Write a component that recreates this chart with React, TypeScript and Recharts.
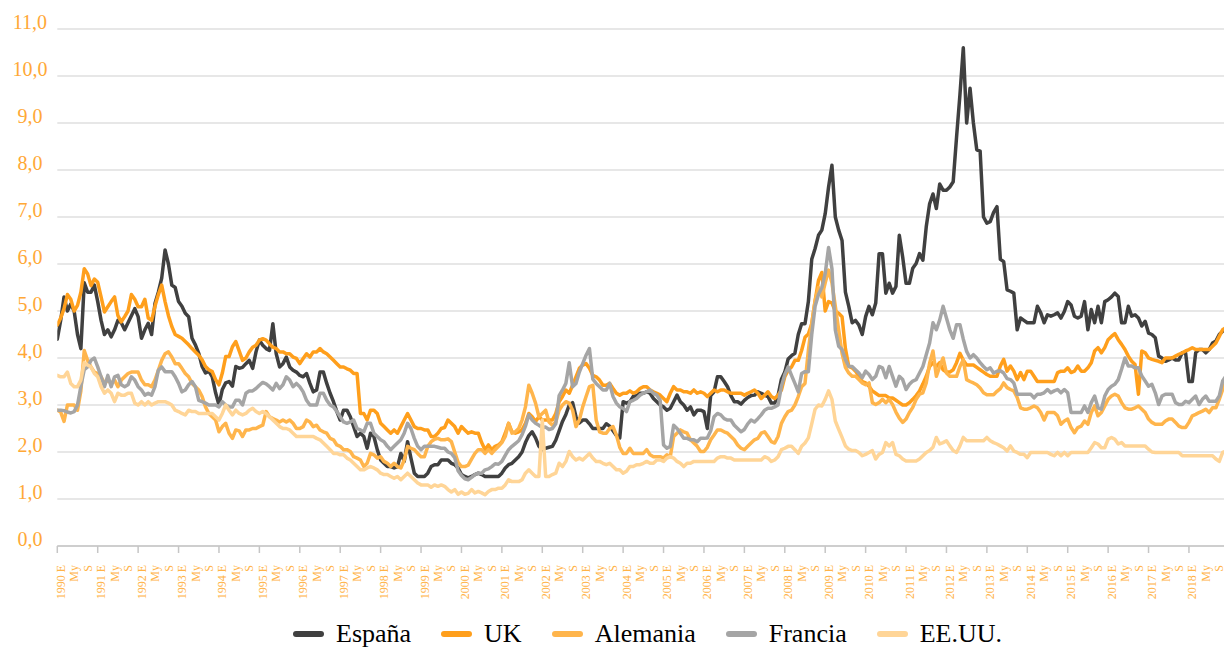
import React from 'react';
import { LineChart, Line, XAxis, YAxis, CartesianGrid, Legend } from 'recharts';

const years = [1990, 1991, 1992, 1993, 1994, 1995, 1996, 1997, 1998, 1999, 2000, 2001, 2002, 2003, 2004, 2005, 2006, 2007, 2008, 2009, 2010, 2011, 2012, 2013, 2014, 2015, 2016, 2017, 2018];
const monthTags = ['E', 'F', 'Mr', 'Ab', 'My', 'Jn', 'Jl', 'Ag', 'S', 'O', 'N', 'D'];
const shownMonths = ['E', 'My', 'S'];
const yTicks = [0, 1, 2, 3, 4, 5, 6, 7, 8, 9, 10, 11];

const espana = [
  4.4, 4.8, 5.3, 5.0, 5.15, 5.0, 4.5, 4.2, 5.6, 5.4, 5.4, 5.55,
  5.2, 4.8, 4.5, 4.6, 4.45, 4.6, 4.8, 4.75, 4.6, 4.75, 4.9, 5.05,
  4.88, 4.42, 4.6, 4.74, 4.5, 5.16, 5.4, 5.7, 6.3, 6.0, 5.55, 5.5,
  5.2, 5.1, 4.95, 4.88, 4.42, 4.28, 4.1, 3.82, 3.68, 3.72, 3.6, 3.26,
  3.0, 3.33, 3.47, 3.5, 3.4, 3.82, 3.78, 3.8, 3.88, 3.95, 3.78, 4.13,
  4.38, 4.27, 4.2, 4.16, 4.73, 4.09, 3.81, 3.88, 4.02, 3.81, 3.74, 3.7,
  3.63, 3.6, 3.67, 3.46, 3.28, 3.32, 3.7, 3.7, 3.46, 3.25, 3.07, 2.86,
  2.68, 2.89, 2.89, 2.75, 2.54, 2.33, 2.4, 2.33, 2.08, 2.4, 2.33, 2.05,
  1.83, 1.76, 1.69, 1.69, 1.66, 1.69, 1.97, 1.8, 2.22, 1.87, 1.55, 1.48,
  1.48, 1.48, 1.55, 1.69, 1.73, 1.73, 1.83, 1.83, 1.83, 1.76, 1.73, 1.66,
  1.52, 1.48, 1.45, 1.48, 1.52, 1.55, 1.52, 1.48, 1.48, 1.48, 1.48, 1.48,
  1.55, 1.66, 1.73, 1.76, 1.83, 1.9, 2.0, 2.2, 2.35, 2.43, 2.3, 2.12,
  2.05, 2.08, 2.1, 2.12, 2.25, 2.45, 2.65, 2.8, 3.0, 3.05, 2.75, 2.62,
  2.68, 2.68, 2.6, 2.5, 2.5, 2.5, 2.5, 2.6, 2.55, 2.45, 2.35, 2.3,
  3.07, 3.04, 3.07, 3.18, 3.2, 3.25, 3.25, 3.28, 3.25, 3.14, 3.07, 3.0,
  2.96, 2.89, 2.93, 3.07, 3.21, 3.07, 3.0, 2.89, 2.96, 2.79, 2.89, 2.89,
  2.86, 2.5, 3.2, 3.28, 3.6, 3.6, 3.5, 3.39, 3.2, 3.07, 3.07, 3.02,
  3.1, 3.16, 3.2, 3.21, 3.28, 3.25, 3.21, 3.18, 3.04, 3.04, 3.2, 3.55,
  3.7, 3.98, 4.05, 4.1, 4.5, 4.73, 4.73, 5.2, 6.1, 6.33, 6.61, 6.72,
  7.07, 7.64, 8.1, 7.0, 6.72, 6.5, 5.4, 5.1, 4.75, 4.8, 4.7, 4.5,
  4.88, 5.1, 4.92, 5.17, 6.22, 6.22, 5.38, 5.59, 5.38, 5.52, 6.61, 6.15,
  5.59, 5.59, 5.91, 6.01, 6.22, 6.08, 6.79, 7.28, 7.49, 7.18, 7.7, 7.57,
  7.57, 7.64, 7.75, 8.7, 9.6, 10.6, 9.0, 9.74, 9.0, 8.43, 8.4, 7.0,
  6.87, 6.9, 7.1, 7.22, 6.1, 6.05, 5.45, 5.42, 5.38, 4.6, 4.85, 4.8,
  4.75, 4.75, 4.75, 5.1, 4.96, 4.75, 4.92, 4.89, 4.92, 4.96, 4.85, 4.99,
  5.2, 5.13, 4.89, 4.85, 4.89, 5.2, 4.6, 5.03, 4.75, 5.1, 4.75, 5.2,
  5.24, 5.3, 5.38, 5.31, 4.75, 4.75, 5.1, 4.89, 4.92, 4.85, 4.68, 4.78,
  4.53, 4.5, 4.43, 4.04, 4.0, 3.93, 3.96, 4.0, 3.96, 3.96, 4.11, 4.11,
  3.5, 3.5, 4.11, 4.18, 4.18, 4.11, 4.18, 4.32, 4.36, 4.5, 4.57, 4.6,
];

const uk = [
  4.7, 4.85, 5.05, 5.35, 5.25, 5.0, 5.12, 5.4, 5.9, 5.79, 5.54, 5.68,
  5.61, 5.3, 4.98, 5.09, 5.2, 5.3, 4.9, 4.77, 4.88, 5.0, 5.35, 5.25,
  5.09, 5.09, 5.25, 4.85, 4.8, 5.1, 5.35, 5.55, 5.2, 4.9, 4.67, 4.5,
  4.46, 4.42, 4.35, 4.28, 4.2, 4.13, 4.06, 3.96, 3.82, 3.75, 3.71, 3.54,
  3.43, 3.68, 4.03, 4.03, 4.24, 4.35, 4.15, 3.95, 4.0, 4.13, 4.23, 4.27,
  4.38, 4.41, 4.38, 4.3, 4.23, 4.2, 4.13, 4.13, 4.09, 4.09, 4.02, 3.99,
  3.88, 3.99, 4.09, 4.02, 4.13, 4.13, 4.2, 4.13, 4.09, 4.02, 3.95, 3.88,
  3.81, 3.81, 3.77, 3.74, 3.67, 3.67, 2.82, 2.82, 2.68, 2.89, 2.89, 2.82,
  2.61, 2.54, 2.47, 2.4, 2.47, 2.4, 2.54, 2.68, 2.82, 2.68, 2.54, 2.5,
  2.5, 2.47, 2.47, 2.33, 2.33, 2.4, 2.5, 2.52, 2.68, 2.61, 2.54, 2.4,
  2.54, 2.47, 2.4, 2.43, 2.4, 2.4, 2.2, 2.05, 2.15, 2.05, 2.12, 2.15,
  2.22, 2.4, 2.61, 2.43, 2.4, 2.43, 2.47, 2.61, 2.82, 2.75, 2.65, 2.75,
  2.68, 2.68, 2.68, 2.68, 2.82, 3.07, 3.18, 3.32, 3.25, 3.42, 3.6, 3.78,
  3.85, 3.88, 3.78, 3.63, 3.6, 3.53, 3.42, 3.42, 3.46, 3.35, 3.25, 3.21,
  3.25, 3.25, 3.3, 3.25, 3.28, 3.35, 3.39, 3.39, 3.32, 3.28, 3.25, 3.21,
  3.14, 3.07, 3.25, 3.39, 3.32, 3.32, 3.28, 3.28, 3.25, 3.32, 3.25, 3.28,
  3.25, 3.18, 3.25, 3.32, 3.28, 3.32, 3.32, 3.28, 3.25, 3.25, 3.25, 3.25,
  3.21, 3.25, 3.28, 3.32, 3.25, 3.14, 3.21, 3.28, 3.18, 3.14, 3.21, 3.32,
  3.6, 3.74, 3.81, 3.95, 3.95, 4.16, 4.44, 4.51, 4.73, 5.22, 5.65, 5.82,
  5.0, 5.2, 5.17, 5.0, 4.95, 4.88, 4.2, 3.82, 3.79, 3.72, 3.61, 3.5,
  3.47, 3.4, 3.3, 3.25, 3.2, 3.2, 3.2, 3.15, 3.15, 3.1, 3.05, 3.0,
  3.0, 3.05, 3.12, 3.2, 3.3, 3.45, 3.61, 3.82, 3.9, 3.82, 3.9, 3.75,
  3.7, 3.7, 3.75, 3.9, 4.1, 3.95, 3.85, 3.85, 3.85, 3.8, 3.75, 3.7,
  3.65, 3.61, 3.61, 3.61, 3.83, 3.97, 3.72, 3.83, 3.72, 3.54, 3.69, 3.54,
  3.72, 3.72, 3.61, 3.5, 3.5, 3.5, 3.5, 3.5, 3.5, 3.69, 3.72, 3.72,
  3.79, 3.69, 3.72, 3.83, 3.72, 3.72, 3.79, 3.9, 4.15, 4.22, 4.11, 4.22,
  4.39, 4.46, 4.52, 4.39, 4.29, 4.18, 4.04, 3.93, 3.86, 3.23, 4.15, 4.11,
  4.0, 3.97, 3.95, 3.93, 3.9, 4.0, 4.0, 4.0, 4.04, 4.08, 4.11, 4.15,
  4.18, 4.22, 4.18, 4.18, 4.18, 4.18, 4.18, 4.25, 4.32, 4.46, 4.6, 4.65,
];

const alemania = [
  2.89, 2.85, 2.65, 3.0, 3.0, 3.0, 2.89, 3.3, 4.16, 3.95, 3.81, 3.7,
  3.67, 3.6, 3.46, 3.53, 3.46, 3.53, 3.39, 3.53, 3.6, 3.67, 3.7, 3.7,
  3.7, 3.53, 3.43, 3.43, 3.39, 3.53, 3.74, 3.95, 4.09, 4.13, 4.02, 3.88,
  3.88, 3.78, 3.67, 3.6, 3.46, 3.39, 3.32, 3.18, 2.96, 2.82, 2.75, 2.68,
  2.43, 2.54, 2.61, 2.4, 2.29, 2.47, 2.45, 2.33, 2.47, 2.47, 2.5, 2.5,
  2.54, 2.57, 2.86, 2.75, 2.71, 2.68, 2.64, 2.68, 2.64, 2.68, 2.61, 2.5,
  2.5, 2.54, 2.68, 2.64, 2.54, 2.57, 2.47, 2.43, 2.4, 2.29, 2.26, 2.15,
  2.12, 2.05, 2.05, 2.01, 1.9, 1.87, 1.83, 1.69, 1.76, 1.97, 1.94, 1.87,
  1.9, 1.8, 1.76, 1.69, 1.76, 1.69, 1.66, 1.83, 2.12, 2.08, 2.05, 1.97,
  1.9, 1.9, 2.12, 2.22, 2.27, 2.29, 2.26, 2.26, 2.28, 2.22, 2.0, 1.78,
  1.69, 1.69, 1.72, 1.85, 1.97, 2.05, 2.05, 1.97, 2.05, 1.97, 2.05, 2.12,
  2.2, 2.33, 2.61, 2.4, 2.43, 2.5, 2.68, 2.96, 3.42, 3.25, 3.04, 2.75,
  2.82, 2.89, 2.64, 2.57, 2.64, 2.89, 3.0, 3.07, 3.04, 2.89, 2.54, 2.68,
  2.96, 3.18, 3.39, 3.42, 2.68, 2.43, 2.4, 2.4, 2.5, 2.54, 2.36, 2.1,
  1.97, 1.97, 2.08, 1.97, 1.97, 1.97, 1.97, 2.05, 1.94, 1.9, 1.9, 1.9,
  1.87, 1.94, 1.9, 2.33, 2.4, 2.47, 2.43, 2.4, 2.26, 2.19, 2.12, 2.01,
  2.01, 2.1, 2.26, 2.36, 2.47, 2.47, 2.43, 2.4, 2.33, 2.26, 2.15, 2.08,
  2.05, 2.12, 2.19, 2.26, 2.29, 2.4, 2.43, 2.33, 2.22, 2.19, 2.33, 2.61,
  2.75, 2.86, 2.89, 3.0, 3.18, 3.39, 3.46, 4.16, 4.73, 5.22, 5.5, 5.3,
  5.6, 5.87, 5.6, 5.1, 4.6, 4.1, 3.8, 3.68, 3.61, 3.61, 3.54, 3.47,
  3.43, 3.47, 3.05, 3.01, 3.05, 3.12, 3.05, 3.12, 3.01, 2.85, 2.72, 2.63,
  2.7, 2.84, 2.95, 3.12, 3.23, 3.26, 3.47, 3.89, 4.15, 3.61, 3.82, 4.0,
  3.68, 3.61, 3.61, 3.61, 3.82, 3.96, 3.54, 3.5, 3.47, 3.43, 3.36, 3.26,
  3.22, 3.22, 3.22, 3.29, 3.35, 3.47, 3.37, 3.33, 3.3, 3.16, 2.94, 2.91,
  2.91, 2.94, 2.98, 2.94, 2.84, 2.68, 2.84, 2.84, 2.84, 2.77, 2.59, 2.66,
  2.7, 2.52, 2.41, 2.52, 2.55, 2.66, 2.59, 2.84, 2.98, 2.77, 2.84, 2.98,
  3.12, 3.19, 3.23, 3.19, 3.05, 2.94, 2.91, 2.91, 2.94, 2.98, 2.91, 2.84,
  2.7, 2.63, 2.59, 2.59, 2.59, 2.66, 2.7, 2.7, 2.63, 2.55, 2.52, 2.52,
  2.63, 2.77, 2.8, 2.84, 2.87, 2.91, 2.84, 2.94, 2.94, 3.12, 3.33, 3.5,
];

const francia = [
  2.89, 2.89, 2.88, 2.85, 2.83, 2.86, 3.0, 3.4, 3.75, 3.81, 3.95, 4.0,
  3.81, 3.6, 3.39, 3.63, 3.39, 3.6, 3.63, 3.43, 3.39, 3.43, 3.6, 3.53,
  3.39, 3.32, 3.21, 3.25, 3.21, 3.39, 3.74, 3.81, 3.71, 3.71, 3.71, 3.6,
  3.46, 3.28, 3.32, 3.43, 3.5, 3.39, 3.1, 3.07, 3.04, 3.0, 3.0, 3.0,
  2.96, 3.07, 3.0, 2.96, 2.96, 3.1, 3.1, 3.0, 3.25, 3.3, 3.3, 3.35,
  3.42, 3.48, 3.45, 3.39, 3.32, 3.46, 3.35, 3.43, 3.6, 3.53, 3.39, 3.46,
  3.39, 3.28, 3.1, 3.0, 3.0, 3.0, 3.25, 3.25, 3.1, 3.0, 2.96, 2.86,
  2.75, 2.64, 2.61, 2.64, 2.68, 2.5, 2.47, 2.43, 2.61, 2.61, 2.4, 2.33,
  2.26, 2.22, 2.12, 2.05, 2.12, 2.19, 2.26, 2.4, 2.61, 2.5, 2.29, 2.12,
  2.05, 2.12, 2.12, 2.12, 2.12, 2.1, 2.08, 2.08, 2.0, 1.97, 1.88, 1.6,
  1.5, 1.43, 1.41, 1.46, 1.52, 1.55, 1.55, 1.62, 1.64, 1.69, 1.75, 1.74,
  1.8, 1.93, 2.05, 2.12, 2.18, 2.24, 2.37, 2.55, 2.79, 2.68, 2.61, 2.57,
  2.52, 2.53, 2.48, 2.5, 2.6, 3.2, 3.32, 3.46, 3.9, 3.39, 3.46, 3.7,
  3.88, 4.06, 4.2, 3.55, 3.46, 3.39, 3.32, 3.32, 3.46, 3.18, 3.04, 2.96,
  2.93, 2.86, 3.07, 3.1, 3.14, 3.21, 3.25, 3.28, 3.32, 3.25, 3.21, 3.1,
  2.15, 2.08, 2.12, 2.57, 2.5, 2.4, 2.29, 2.29, 2.26, 2.26, 2.22, 2.29,
  2.29, 2.3, 2.45, 2.75, 2.82, 2.79, 2.71, 2.68, 2.68, 2.57, 2.5, 2.43,
  2.48, 2.6, 2.68, 2.64, 2.71, 2.79, 2.89, 2.93, 2.93, 2.96, 3.0, 3.4,
  3.65, 3.81, 3.63, 3.46, 3.28, 3.67, 3.71, 3.71, 4.5, 5.1, 5.35, 5.5,
  5.8, 6.35, 5.9, 4.6, 4.25, 4.18, 3.97, 3.82, 3.82, 3.75, 3.68, 3.58,
  3.72, 3.65, 3.54, 3.61, 3.82, 3.79, 3.58, 3.82, 3.61, 3.4, 3.61, 3.54,
  3.33, 3.44, 3.51, 3.54, 3.68, 3.82, 4.07, 4.32, 4.75, 4.6, 4.81, 5.1,
  4.85, 4.6, 4.42, 4.71, 4.71, 4.4, 4.14, 4.0, 4.07, 4.0, 3.9, 3.82,
  3.75, 3.79, 3.68, 3.72, 3.73, 3.68, 3.56, 3.54, 3.47, 3.23, 3.23, 3.23,
  3.23, 3.23, 3.15, 3.23, 3.23, 3.26, 3.33, 3.26, 3.3, 3.33, 3.26, 3.33,
  3.26, 2.84, 2.84, 2.84, 2.84, 2.98, 2.84, 3.05, 3.19, 2.94, 2.91, 3.19,
  3.33, 3.4, 3.44, 3.54, 3.76, 4.0, 3.83, 3.83, 3.79, 3.79, 3.62, 3.51,
  3.4, 3.44, 3.26, 3.01, 3.19, 3.23, 3.23, 3.23, 3.05, 3.01, 3.01, 3.08,
  3.05, 3.12, 3.19, 3.01, 3.12, 3.19, 3.08, 3.08, 3.08, 3.19, 3.51, 3.62,
];

const eeuu = [
  3.63, 3.6, 3.6, 3.7, 3.46, 3.39, 3.39, 3.53, 3.9, 3.85, 3.81, 3.67,
  3.6, 3.39, 3.25, 3.32, 3.25, 3.07, 3.25, 3.21, 3.21, 3.25, 3.25, 3.04,
  3.0, 3.07, 3.0, 3.07, 3.0, 3.04, 3.07, 3.07, 3.07, 3.04, 3.0, 2.89,
  2.86, 2.82, 2.79, 2.89, 2.86, 2.86, 2.82, 2.82, 2.82, 2.82, 2.82, 2.75,
  2.68, 2.82, 3.0, 2.89, 2.79, 2.89, 2.82, 2.79, 2.82, 2.89, 2.93, 2.86,
  2.82, 2.86, 2.82, 2.75, 2.68, 2.61, 2.54, 2.5, 2.5, 2.47, 2.4, 2.33,
  2.33, 2.33, 2.33, 2.33, 2.33, 2.29, 2.26, 2.19, 2.12, 2.05, 1.97, 1.97,
  1.94, 1.94, 1.87, 1.83, 1.76, 1.69, 1.62, 1.62, 1.66, 1.69, 1.66, 1.62,
  1.55, 1.52, 1.52, 1.48, 1.44, 1.48, 1.41, 1.48, 1.55, 1.48, 1.41, 1.34,
  1.3, 1.3, 1.3, 1.25, 1.3, 1.27, 1.3, 1.27, 1.2, 1.15, 1.2, 1.1,
  1.15, 1.1, 1.12, 1.2, 1.13, 1.16, 1.13, 1.09, 1.16, 1.2, 1.2, 1.23,
  1.23, 1.3, 1.41, 1.37, 1.37, 1.37, 1.41, 1.55, 1.62, 1.55, 1.48, 1.48,
  2.68, 1.48, 1.48, 1.52, 1.55, 1.76, 1.69, 1.8, 2.01, 1.9, 1.83, 1.87,
  1.83, 1.9, 1.97, 1.87, 1.8, 1.8, 1.76, 1.73, 1.76, 1.69, 1.62, 1.62,
  1.55, 1.59, 1.69, 1.69, 1.73, 1.73, 1.76, 1.8, 1.76, 1.76, 1.83, 1.83,
  1.8, 1.87, 1.9, 1.87, 1.8, 1.76, 1.69, 1.76, 1.76, 1.8, 1.8, 1.8,
  1.8, 1.8, 1.8, 1.8, 1.87, 1.9, 1.9, 1.87, 1.87, 1.83, 1.83, 1.83,
  1.83, 1.83, 1.83, 1.83, 1.83, 1.83, 1.9, 1.87, 1.8, 1.83, 1.9, 2.05,
  2.08, 2.12, 2.12, 2.05, 1.97, 2.12, 2.19, 2.3, 2.6, 2.91, 3.0, 2.98,
  3.12, 3.3, 3.12, 2.66, 2.48, 2.31, 2.13, 2.06, 2.03, 2.03, 1.99, 1.92,
  1.95, 1.99, 2.03, 1.85, 1.95, 1.99, 2.2, 2.13, 2.2, 1.95, 1.92, 1.85,
  1.81, 1.81, 1.81, 1.81, 1.85, 1.92, 1.99, 2.03, 2.1, 2.31, 2.17, 2.2,
  2.24, 2.13, 2.03, 1.99, 2.13, 2.31, 2.24, 2.24, 2.24, 2.24, 2.24, 2.24,
  2.31, 2.24, 2.2, 2.17, 2.13, 2.09, 2.02, 2.13, 2.02, 1.99, 1.95, 1.95,
  1.88, 1.99, 1.99, 1.99, 1.99, 1.99, 1.99, 1.95, 1.92, 1.99, 1.92, 1.99,
  1.92, 1.99, 1.99, 1.99, 1.99, 1.99, 1.99, 2.09, 2.2, 2.17, 2.09, 2.09,
  2.27, 2.31, 2.27, 2.17, 2.2, 2.13, 2.13, 2.13, 2.13, 2.13, 2.13, 2.13,
  2.06, 2.0, 1.99, 1.99, 1.99, 1.99, 1.99, 1.99, 1.99, 1.99, 1.92, 1.92,
  1.92, 1.92, 1.92, 1.92, 1.92, 1.92, 1.92, 1.92, 1.85, 1.8, 1.99, 2.02,
];

const series = [
  { key: 'espana', name: 'España', color: '#404040', values: espana },
  { key: 'uk', name: 'UK', color: '#ff9f1c', values: uk },
  { key: 'alemania', name: 'Alemania', color: '#ffb54c', values: alemania },
  { key: 'francia', name: 'Francia', color: '#a5a5a5', values: francia },
  { key: 'eeuu', name: 'EE.UU.', color: '#ffd597', values: eeuu },
];

const rows = espana.map((_, i) => {
  const year = years[Math.floor(i / 12)];
  const tag = monthTags[i % 12];
  const row: any = { idx: i, label: tag === 'E' ? `${year} E` : tag, tag };
  series.forEach((s) => { row[s.key] = s.values[i]; });
  return row;
});

const tickIdx = rows.filter((r) => shownMonths.includes(r.tag)).map((r) => r.idx);
const lastIdx = rows.length - 1;

const SERIF = '"Liberation Serif", "Times New Roman", serif';

const XTick = (props: any) => {
  const { x, y, payload } = props;
  const r = rows[payload.value];
  if (!r) return null;
  const tx = x + 3.5;
  const ty = y + 19;
  return (
    <g>
      {r.tag === 'E' && <line x1={x} x2={x} y1={y} y2={y + 7} stroke="#c6c6c6" strokeWidth={1.5} />}
      <text x={tx} y={ty} transform={`rotate(-90, ${tx}, ${ty})`} textAnchor="end" dominantBaseline="central"
        fontSize={12} fill="#ffb347" fontFamily={SERIF}>{r.label}</text>
    </g>
  );
};

const YTick = (props: any) => {
  const { y, payload } = props;
  return (
    <text x={30} y={y - 0.5} textAnchor="middle" fontSize={20} fill="#ffa836" fontFamily={SERIF}>
      {Number(payload.value).toFixed(1).replace('.', ',')}
    </text>
  );
};

const LegendContent = () => (
  <div style={{ display: 'flex', alignItems: 'center', fontFamily: SERIF, fontSize: 26, color: '#000', whiteSpace: 'nowrap', lineHeight: '26px' }}>
    {series.map((s) => (
      <div key={s.key} style={{ display: 'flex', alignItems: 'center', marginRight: 30 }}>
        <svg width={31} height={8} style={{ marginRight: 12 }}>
          <line x1={3} y1={4} x2={28} y2={4} stroke={s.color} strokeWidth={6} strokeLinecap="round" />
        </svg>
        <span>{s.name}</span>
      </div>
    ))}
  </div>
);

export default function App() {
  return (
    <div style={{ position: 'fixed', left: 0, top: 0, width: 1224, height: 648, overflow: 'hidden', background: '#fff' }}>
      <LineChart width={1226} height={648} data={rows} margin={{ top: 29, right: 0, bottom: 0, left: 0 }}>
        <CartesianGrid vertical={false} stroke="#cfcfcf" strokeWidth={1.2} />
        <XAxis dataKey="idx" type="number" domain={[0, lastIdx]} ticks={tickIdx} interval={0}
          tick={<XTick />} tickLine={false} tickSize={0} tickMargin={0} height={102}
          axisLine={{ stroke: '#c6c6c6', strokeWidth: 1.5 }} allowDataOverflow />
        <YAxis domain={[0, 11]} ticks={yTicks} width={57.3} axisLine={false} tickLine={false}
          tick={<YTick />} tickSize={0} tickMargin={0} interval={0} />
        {series.map((s) => (
          <Line key={s.key} dataKey={s.key} name={s.name} stroke={s.color} strokeWidth={3.5} dot={false}
            type="linear" strokeLinejoin="round" strokeLinecap="round" isAnimationActive={false} />
        ))}
        <Legend verticalAlign="middle" align="center" layout="horizontal" content={<LegendContent />}
          wrapperStyle={{ top: 621, left: 293, width: 'auto' }} />
      </LineChart>
    </div>
  );
}
